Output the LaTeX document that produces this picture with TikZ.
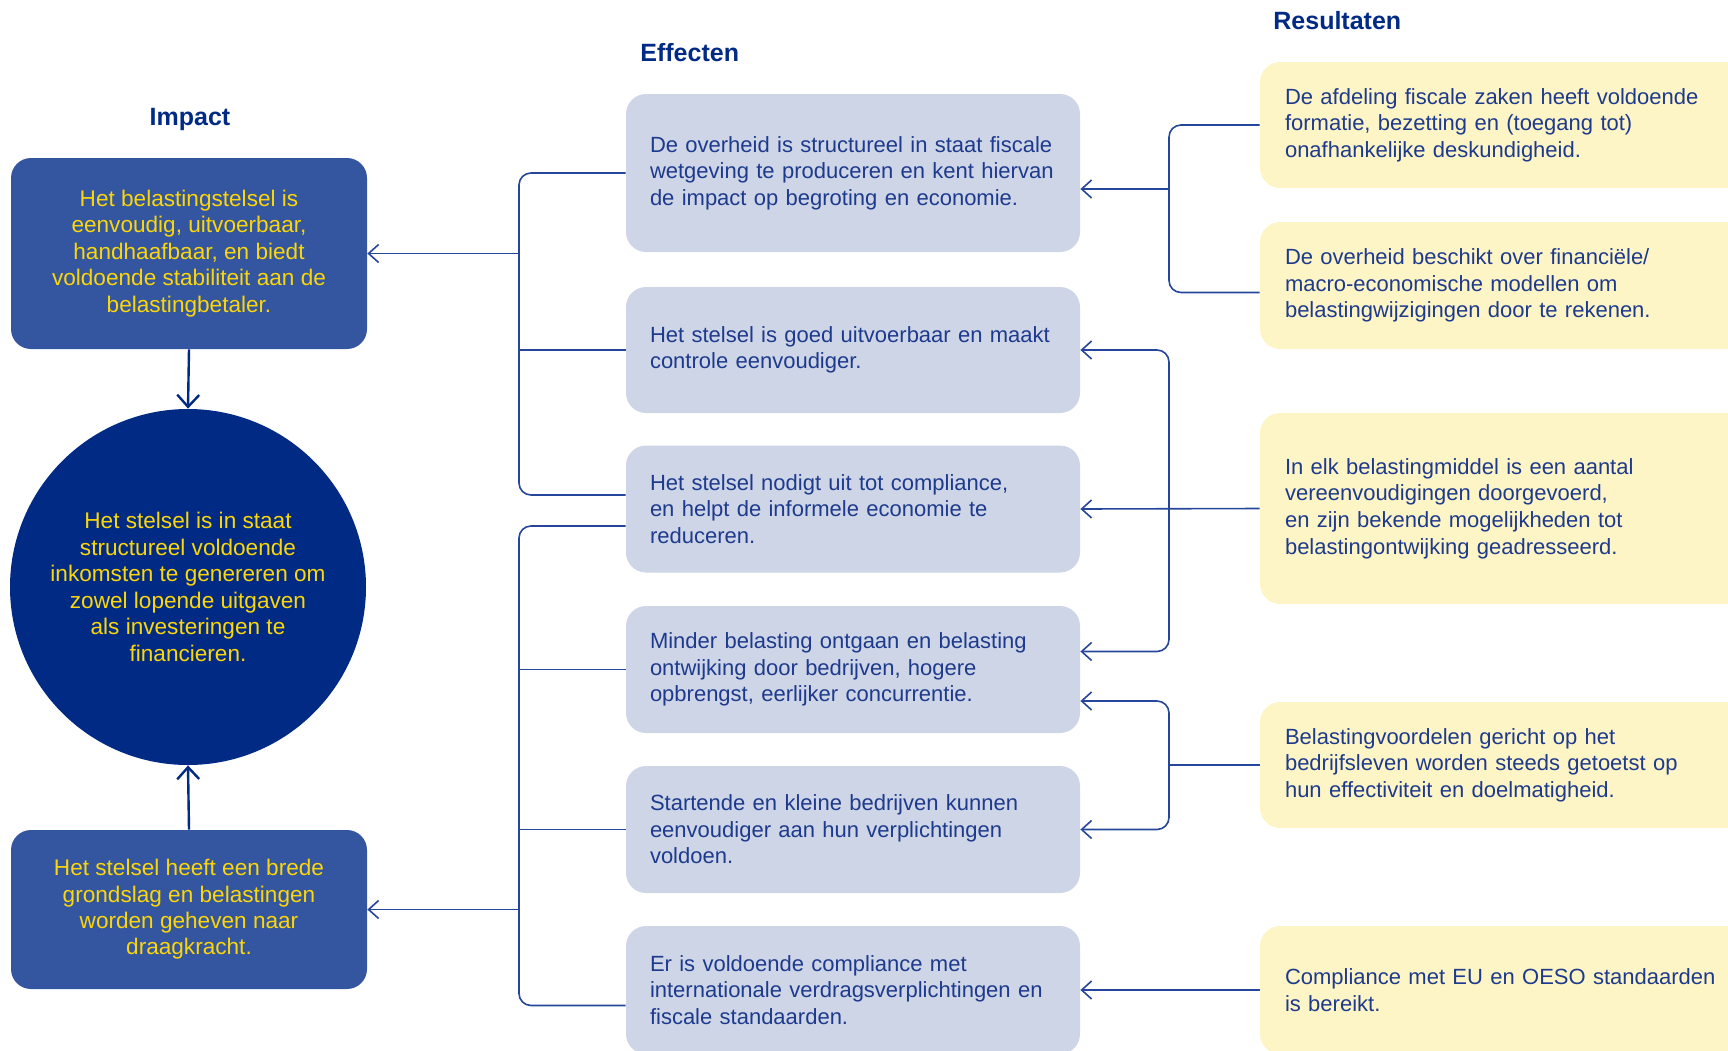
\documentclass[tikz,border=0pt]{standalone}
\usepackage{fontspec}
\setmainfont{Liberation Sans}
\usetikzlibrary{arrows.meta}

\definecolor{impactblue}{RGB}{52,85,159}
\definecolor{navy}{RGB}{1,42,133}
\definecolor{goldtext}{RGB}{250,214,10}
\definecolor{effectfill}{RGB}{205,213,231}
\definecolor{resultfill}{RGB}{254,245,198}
\definecolor{bodyblue}{RGB}{30,58,140}
\definecolor{linkblue}{RGB}{38,70,155}
\hyphenpenalty=10000

\begin{document}
\begin{tikzpicture}[x=0.5pt, y=-0.5pt,
    heading/.style={font=\bfseries\fontsize{12.5}{15}\selectfont, text=navy, inner sep=0pt},
    impactbox/.style={rectangle, rounded corners=10pt, fill=impactblue, text=goldtext,
        minimum width=178pt, align=center, font=\fontsize{11.3}{13.2}\selectfont},
    effectbox/.style={rectangle, rounded corners=10pt, fill=effectfill, text=bodyblue,
        minimum width=227pt, inner xsep=12pt, text width=203pt, align=left,
        font=\fontsize{11}{13.3}\selectfont},
    resultbox/.style={rectangle, rounded corners=10pt, fill=resultfill, text=bodyblue,
        minimum width=250pt, inner xsep=12.5pt, text width=225pt, align=left,
        font=\fontsize{11}{13.3}\selectfont},
    link/.style={draw=linkblue, line width=0.8pt},
    pointer/.style={-{Straight Barb[length=5pt,width=9pt]}},
    twopointer/.style={{Straight Barb[length=5pt,width=9pt]}-{Straight Barb[length=5pt,width=9pt]}},
    stem/.style={draw=navy, line width=1.2pt, -{Straight Barb[length=6pt,width=11pt]}}]
        \useasboundingbox (0,0) rectangle (1728,1050);
        \clip (0,0) rectangle (1728,1050);

        \node[heading, anchor=base] (ttlimpact) at (190,125) {Impact};
        \node[heading, anchor=base west] (ttleffect) at (640,61.5) {Effecten};
        \node[heading, anchor=base west] (ttlresult) at (1273,29) {Resultaten};

        \node[impactbox, minimum height=95.5pt] (imp1) at (189,253.5) {Het belastingstelsel is\\ eenvoudig, uitvoerbaar,\\ handhaafbaar, en biedt\\ voldoende stabiliteit aan de\\ belastingbetaler.};
        \node[circle, fill=navy, text=goldtext, minimum size=178pt, align=center,
            font=\fontsize{11.3}{13.3}\selectfont] (doel) at (188,587) {Het stelsel is in staat\\ structureel voldoende\\ inkomsten te genereren om\\ zowel lopende uitgaven\\ als investeringen te\\ financieren.};
        \node[impactbox, minimum height=79.5pt] (imp2) at (189,909.5) {Het stelsel heeft een brede\\ grondslag en belastingen\\ worden geheven naar\\ draagkracht.};

        \node[effectbox, minimum height=79pt] (e1) at (853,173) {De overheid is structureel in staat fiscale\\ wetgeving te produceren en kent hiervan\\ de impact op begroting en economie.};
        \node[effectbox, minimum height=63pt] (e2) at (853,350) {Het stelsel is goed uitvoerbaar en maakt\\ controle eenvoudiger.};
        \node[effectbox, minimum height=63.5pt] (e3) at (853,509) {Het stelsel nodigt uit tot compliance,\\ en helpt de informele economie te\\ reduceren.};
        \node[effectbox, minimum height=63.5pt] (e4) at (853,669.5) {Minder belasting ontgaan en belasting\\ ontwijking door bedrijven, hogere\\ opbrengst, eerlijker concurrentie.};
        \node[effectbox, minimum height=63.5pt] (e5) at (853,829.5) {Startende en kleine bedrijven kunnen\\ eenvoudiger aan hun verplichtingen\\ voldoen.};
        \node[effectbox, minimum height=64pt] (e6) at (853,990) {Er is voldoende compliance met\\ internationale verdragsverplichtingen en\\ fiscale standaarden.};

        \node[resultbox, minimum height=63pt] (r1) at (1510,125) {De afdeling fiscale zaken heeft voldoende\\ formatie, bezetting en (toegang tot)\\ onafhankelijke deskundigheid.};
        \node[resultbox, minimum height=63.5pt] (r2) at (1510,285.5) {De overheid beschikt over financiële/\\ macro-economische modellen om\\ belastingwijzigingen door te rekenen.};
        \node[resultbox, minimum height=95.5pt] (r3) at (1510,508.5) {In elk belastingmiddel is een aantal\\ vereenvoudigingen doorgevoerd,\\ en zijn bekende mogelijkheden tot\\ belastingontwijking geadresseerd.};
        \node[resultbox, minimum height=63pt] (r4) at (1510,765) {Belastingvoordelen gericht op het\\ bedrijfsleven worden steeds getoetst op\\ hun effectiviteit en doelmatigheid.};
        \node[resultbox, minimum height=64pt] (r5) at (1510,990) {Compliance met EU en OESO standaarden\\ is bereikt.};

        \draw[stem] (imp1.south) -- (doel.north);
        \draw[stem] (imp2.north) -- (doel.south);

        % left brackets
        \coordinate (lb) at (519,0);
        \coordinate (e3up) at ([yshift=7pt]e3.west);
        \coordinate (e3dn) at ([yshift=-8.5pt]e3.west);
        \coordinate (e6in) at ([yshift=-7.75pt]e6.west);
        \draw[link, rounded corners=6pt] (e1.west) -| (lb |- e3up) -- (e3up);
        \draw[link] (e2.west) -- (e2.west -| lb);
        \draw[link, pointer] (imp1.east -| lb) -- (imp1.east);
        \draw[link, rounded corners=6pt] (e3dn) -| (lb |- e6in) -- (e6in);
        \draw[link] (e4.west) -- (e4.west -| lb);
        \draw[link] (e5.west) -- (e5.west -| lb);
        \draw[link, pointer] (imp2.east -| lb) -- (imp2.east);

        % right brackets
        \coordinate (rb) at (1169,0);
        \coordinate (r2in) at ([yshift=-3.5pt]r2.west);
        \coordinate (e1in) at ([yshift=-8pt]e1.east);
        \coordinate (e4a) at ([yshift=9pt]e4.east);
        \coordinate (e4b) at ([yshift=-15.75pt]e4.east);
        \draw[link, rounded corners=6pt] (r1.west) -| (rb |- r2in) -- (r2in);
        \draw[link, pointer] (e1in -| rb) -- (e1in);
        \draw[link, twopointer, rounded corners=6pt] (e2.east) -| (rb |- e4a) -- (e4a);
        \draw[link, pointer] (r3.west) -- (e3.east);
        \draw[link, twopointer, rounded corners=6pt] (e4b) -| (rb |- e5.east) -- (e5.east);
        \draw[link] (r4.west) -- (r4.west -| rb);
        \draw[link, pointer] (r5.west) -- (e6.east);
\end{tikzpicture}
\end{document}
